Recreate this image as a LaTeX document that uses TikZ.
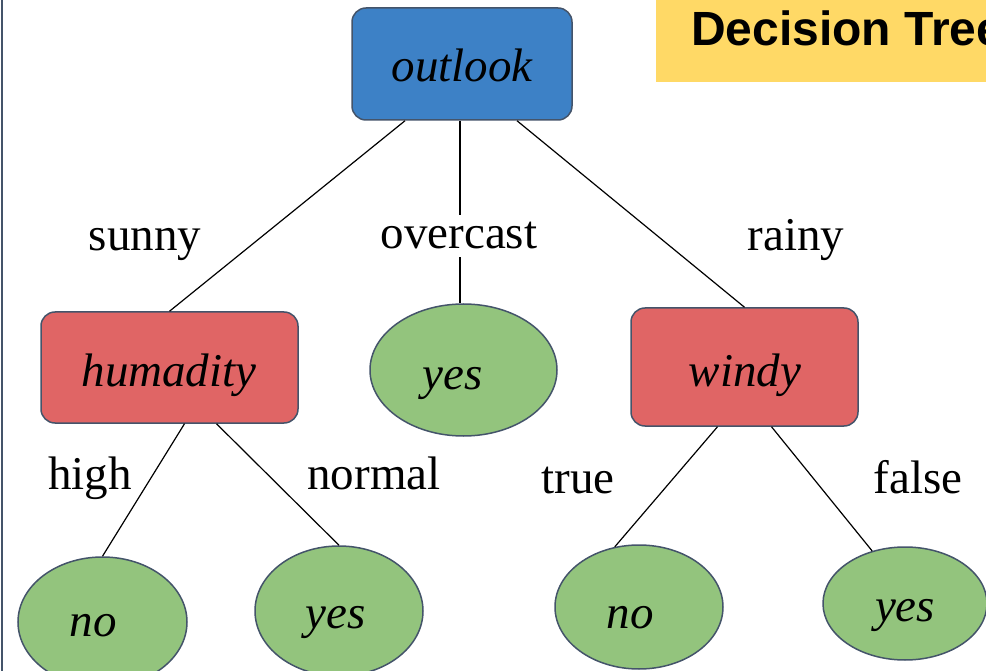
\documentclass[tikz,border=0pt]{standalone}
\usepackage{fontspec}
\setmainfont{Liberation Serif}
\newfontfamily\titlefont{Liberation Sans}
\usetikzlibrary{shapes.geometric}
\definecolor{bluebox}{HTML}{3D81C6}
\definecolor{redbox}{HTML}{E06565}
\definecolor{greenleaf}{HTML}{93C47D}
\definecolor{titlebg}{HTML}{FFD966}
\definecolor{slate}{HTML}{44546A}
\tikzset{
  big/.style={font=\fontsize{47}{50}\selectfont},
  testbox/.style={draw=slate, line width=1.5pt, rounded corners=14pt, inner sep=0pt},
  leaf/.style={ellipse, draw=slate, line width=1.5pt, fill=greenleaf, inner sep=0pt},
  nodetext/.style={anchor=base, inner sep=0pt, font=\fontsize{47}{50}\selectfont\itshape},
  edgelbl/.style={big, anchor=base, inner sep=0pt},
  link/.style={draw=black, line width=1.2pt}
}
\begin{document}
\begin{tikzpicture}[x=1pt,y=-1pt]
\useasboundingbox (0,0) rectangle (986,671);
\fill[white] (0,0) rectangle (986,671);
% title
\fill[titlebg] (656,-5) rectangle (1010,82);
\node[anchor=base west, inner sep=0pt, font=\titlefont\bfseries\fontsize{48}{50}\selectfont] (title) at (691,46) {Decision Tree};
% left border
\draw[slate, line width=2pt] (2,-2) -- (2,680);
% shapes
\node[testbox, fill=bluebox, minimum width=220pt, minimum height=112pt] (outlook) at (462,64) {};
\node[testbox, fill=redbox, minimum width=257pt, minimum height=111pt] (hum) at (169.5,367.5) {};
\node[testbox, fill=redbox, minimum width=227pt, minimum height=118pt] (windy) at (744.5,367) {};
\node[leaf, minimum width=187pt, minimum height=132pt] (yesm) at (463.5,370) {};
\node[leaf, minimum width=169pt, minimum height=130pt] (no1) at (102.5,622) {};
\node[leaf, minimum width=168pt, minimum height=130pt] (yes2) at (339,611) {};
\node[leaf, minimum width=168pt, minimum height=124pt] (no3) at (639,607) {};
\node[leaf, minimum width=164pt, minimum height=113pt] (yes4) at (905,603.5) {};
% node texts
\node[nodetext] (outlookt) at (462,82) {outlook};
\node[nodetext] (humt) at (169,386) {humadity};
\node[nodetext] (windyt) at (745,386) {windy};
\node[nodetext] (yesmt) at (453,389) {yes};
\node[nodetext] (no1t) at (93,636) {no};
\node[nodetext] (yes2t) at (336,628) {yes};
\node[nodetext] (no3t) at (630,628) {no};
\node[nodetext] (yes4t) at (905,621) {yes};
% connectors
\draw[link] ([xshift=-57pt]outlook.south) -- (hum.north);
\draw[link] ([xshift=-2pt]outlook.south) -- ([xshift=-3.5pt]yesm.north);
\draw[link] ([xshift=55pt]outlook.south) -- (windy.north);
\draw[link] ([xshift=15pt]hum.south) -- (no1.north);
\draw[link] ([xshift=47pt]hum.south) -- (yes2.north);
\draw[link] ([xshift=-27pt]windy.south) -- (no3.112);
\draw[link] ([xshift=27pt]windy.south) -- (yes4.122);
% edge labels
\node[edgelbl] (lsunny) at (145,251) {sunny};
\node[edgelbl, fill=white, inner sep=8pt] (lover) at (459,249) {overcast};
\node[edgelbl] (lrainy) at (796,251) {rainy};
\node[edgelbl] (lhigh) at (90,489) {high};
\node[edgelbl] (lnormal) at (374,489) {normal};
\node[edgelbl] (ltrue) at (578,493) {true};
\node[edgelbl] (lfalse) at (918,493) {false};
\end{tikzpicture}
\end{document}
